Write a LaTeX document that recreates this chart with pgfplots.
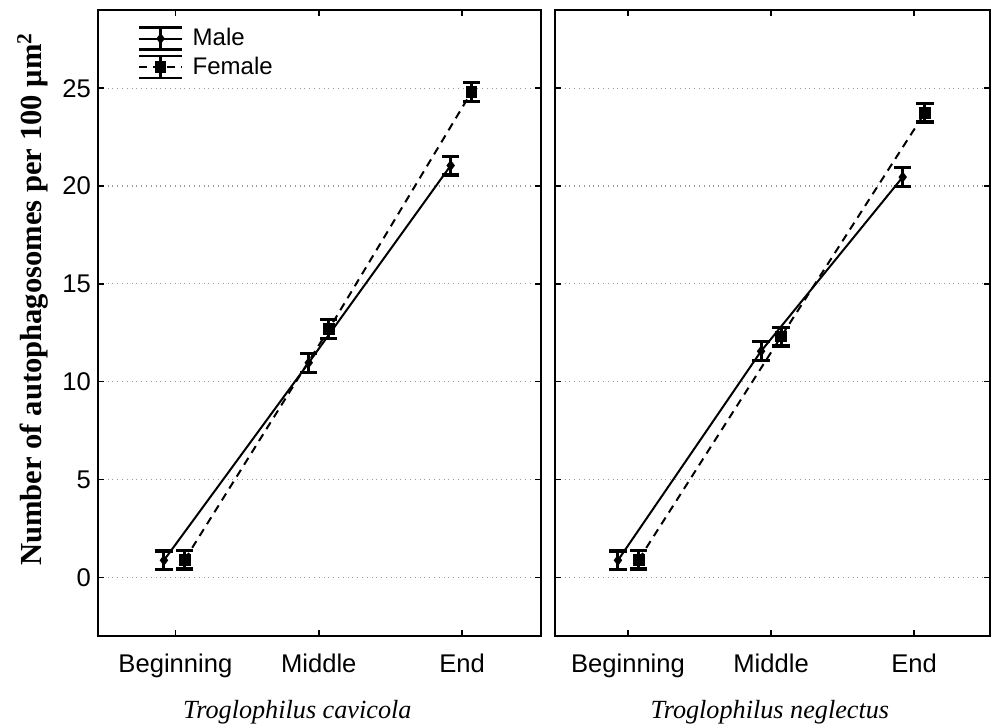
\documentclass[border=0pt]{standalone}
\usepackage{pgfplots}
\pgfplotsset{compat=1.18}
\usepackage{fontspec}
\setmainfont{Liberation Sans}
\newfontfamily\timesfont{Liberation Serif}
\begin{document}
\begin{tikzpicture}
\useasboundingbox (0,0) rectangle (496pt,-364pt);
\pgfplotsset{
  panel/.style={
    scale only axis,
    height=313pt,
    ymin=-3, ymax=29,
    ytick={0,5,10,15,20,25},
    xtick={0,1,2},
    xticklabels={Beginning,Middle,End},
    tick pos=both,
    tick align=inside,
    major tick length=3pt,
    every tick/.style={black, line width=0.8pt},
    axis line style={line width=1pt},
    ymajorgrids,
    major grid style={dotted, gray!80, line width=0.6pt},
    tick label style={font=\fontsize{12.8}{15}\selectfont},
    /pgf/number format/assume math mode=true,
    xticklabel style={yshift=-5.5pt},
    error bars/y dir=both,
    error bars/y explicit,
    error bars/error mark options={rotate=90, mark size=4.3pt, line width=1.6pt, solid},
    error bars/error bar style={line width=1.5pt, solid},
  },
  maleleg/.style={legend image code/.code={
    \draw[solid, line width=1.4pt] (0.38cm,-5.5pt) -- (0.38cm,5.5pt);
    \draw[solid, line width=1.4pt] (0cm,-5.5pt) -- (0.76cm,-5.5pt) (0cm,5.5pt) -- (0.76cm,5.5pt);
    \draw[mark repeat=2,mark phase=2,##1] plot coordinates {(0cm,0cm)(0.38cm,0cm)(0.76cm,0cm)};
  }},
  male/.style={black, solid, line width=1pt, mark=diamond*, mark size=2pt, mark options={solid}},
  female/.style={black, dashed, dash pattern=on 4pt off 3pt, line width=1pt, mark=square*, mark size=2.4pt, mark options={solid}},
}
\begin{axis}[panel, at={(49pt,-5pt)}, anchor=north west, width=221.5pt,
  xmin=-0.54, xmax=2.55,
  ylabel={\timesfont\bfseries Number of autophagosomes per 100 μm\textsuperscript{2}},
  ylabel style={at={(axis description cs:-0.147,0.538)}, anchor=center, font=\fontsize{15.3}{18}\selectfont},
  xlabel={\timesfont\itshape Troglophilus cavicola},
  xlabel style={at={(axis description cs:0.45,-0.121)}, anchor=center, font=\fontsize{13.1}{15}\selectfont},
  legend style={at={(axis description cs:0.075,0.984)}, anchor=north west, draw=none, fill=none,
    font=\fontsize{12}{14}\selectfont, row sep=0pt,
    /tikz/every odd column/.append style={column sep=2.5pt}},
  legend cell align=left,
]
\addplot[male, maleleg] coordinates {(-0.08,0.87) +- (0,0.48) (0.93,10.97) +- (0,0.48) (1.92,21.05) +- (0,0.48)};
\addlegendentry{Male}
\addplot[female, maleleg] coordinates {(0.065,0.9) +- (0,0.48) (1.07,12.68) +- (0,0.48) (2.065,24.8) +- (0,0.48)};
\addlegendentry{Female}
\end{axis}
\begin{axis}[panel, at={(277.5pt,-5pt)}, anchor=north west, width=217.5pt,
  xmin=-0.51, xmax=2.53,
  yticklabels={},
  xlabel={\timesfont\itshape Troglophilus neglectus},
  xlabel style={at={(axis description cs:0.494,-0.121)}, anchor=center, font=\fontsize{13.1}{15}\selectfont},
]
\addplot[male] coordinates {(-0.07,0.87) +- (0,0.48) (0.93,11.56) +- (0,0.48) (1.92,20.46) +- (0,0.48)};
\addplot[female] coordinates {(0.075,0.9) +- (0,0.48) (1.07,12.3) +- (0,0.48) (2.075,23.75) +- (0,0.48)};
\end{axis}
\end{tikzpicture}
\end{document}
